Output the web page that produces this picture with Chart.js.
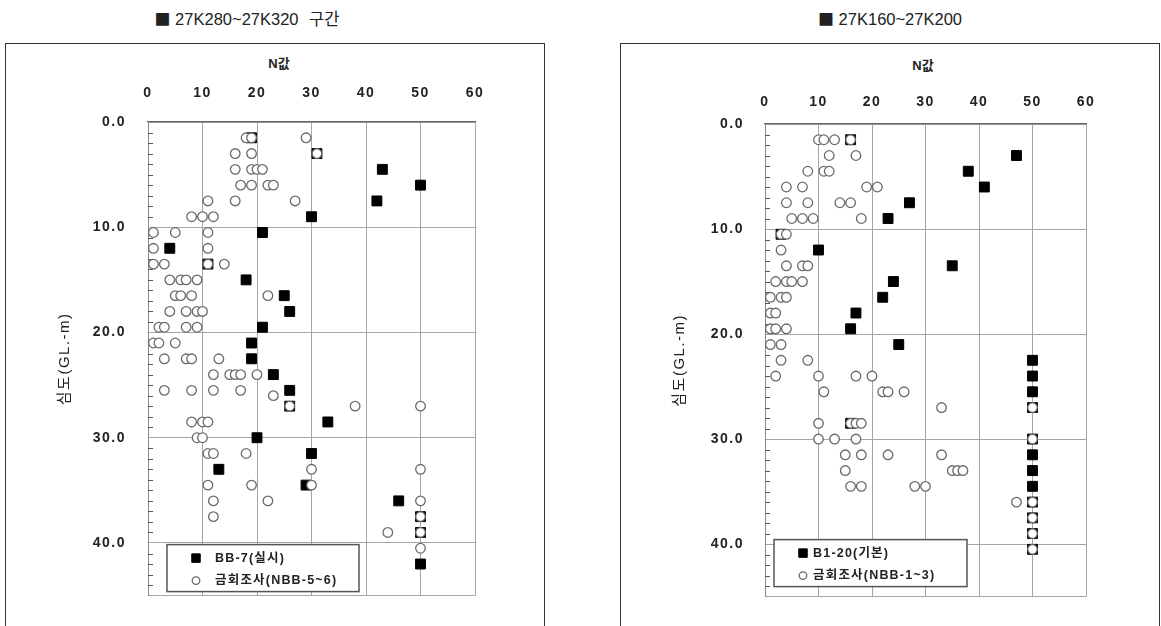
<!DOCTYPE html>
<html lang="ko">
<head>
<meta charset="utf-8">
<script src="https://cdn.jsdelivr.net/npm/chart.js@4.4.1/dist/chart.umd.min.js"></script>
<style>
  body { margin: 0; background: #fff; width: 1161px; height: 626px; overflow: hidden; position: relative;
         font-family: "Liberation Sans", "Noto Sans CJK KR", sans-serif; color: #222; }
  .frame { position: absolute; top: 43px; width: 540px; height: 640px; border: 1.5px solid #333; box-sizing: border-box; }
  .title { position: absolute; top: 8px; font-size: 16.5px; line-height: 20px; white-space: nowrap; transform: translateX(-50%); }
  .title .mark { font-family: "Noto Sans CJK KR", sans-serif; font-size: 16px; }
  .title .gap { margin-left: 6px; }
  .ntitle { position: absolute; font-size: 13px; font-weight: bold; line-height: 14px; transform: translate(-50%, -50%); }
  canvas { position: absolute; }
</style>
</head>
<body>
<div class="title" style="left:247px"><span class="mark">■</span> 27K280~27K320 <span class="gap">구간</span></div>
<div class="title" style="left:890px"><span class="mark">■</span> 27K160~27K200</div>
<div class="frame" style="left:5px"></div>
<div class="frame" style="left:620px"></div>
<div class="ntitle" style="left:279px; top:64px">N값</div>
<div class="ntitle" style="left:923px; top:66px">N값</div>
<canvas id="chartLeft" width="537" height="581" style="left:6px; top:45px"></canvas>
<canvas id="chartRight" width="536" height="581" style="left:622px; top:45px"></canvas>
<script>
// 눈금
const xTickLabels = ['0', '10', '20', '30', '40', '50', '60'];
const yTickLabels = ['0.0', '10.0', '20.0', '30.0', '40.0'];
const yTitle = '심도(GL.-m)';

// 27K280~27K320 : BB-7(실시)
const leftSptDepth = [1.5, 3, 4.5, 6, 7.5, 9, 10.5, 12, 13.5, 15, 16.5, 18, 19.5, 21, 22.5, 24, 25.5, 27, 28.5, 30, 31.5, 33, 34.5, 36, 37.5, 39, 42];
const leftSptN     = [19, 31, 43, 50, 42, 30, 21, 4, 11, 18, 25, 26, 21, 19, 19, 23, 26, 26, 33, 20, 30, 13, 29, 46, 50, 50, 50];

// 27K280~27K320 : 금회조사(NBB-5~6)
const leftNbbDepth = [
  1.5, 1.5, 1.5,
  3, 3, 3,
  4.5, 4.5, 4.5, 4.5,
  6, 6, 6, 6,
  7.5, 7.5, 7.5,
  9, 9, 9,
  10.5, 10.5, 10.5,
  12, 12,
  13.5, 13.5, 13.5, 13.5,
  15, 15, 15, 15,
  16.5, 16.5, 16.5, 16.5,
  18, 18, 18, 18,
  19.5, 19.5, 19.5, 19.5,
  21, 21, 21,
  22.5, 22.5, 22.5, 22.5,
  24, 24, 24, 24, 24,
  25.5, 25.5, 25.5, 25.5,
  26,
  27, 27, 27,
  28.5, 28.5, 28.5,
  30, 30,
  31.5, 31.5, 31.5,
  33, 33,
  34.5, 34.5, 34.5,
  36, 36, 36,
  37.5, 37.5,
  39, 39,
  40.5
];
const leftNbbN = [
  18, 19, 29,
  16, 19, 31,
  16, 19, 20, 21,
  17, 19, 22, 23,
  11, 16, 27,
  8, 10, 12,
  1, 5, 11,
  1, 11,
  1, 3, 11, 14,
  4, 6, 7, 9,
  5, 6, 8, 22,
  4, 7, 9, 10,
  2, 3, 7, 9,
  1, 2, 5,
  3, 7, 8, 13,
  12, 15, 16, 17, 20,
  3, 8, 12, 17,
  23,
  26, 38, 50,
  8, 10, 11,
  9, 10,
  11, 12, 18,
  30, 50,
  11, 19, 30,
  12, 22, 50,
  12, 50,
  44, 50,
  50
];

// 27K160~27K200 : B1-20(기본)
const rightSptDepth = [1.5, 3, 4.5, 6, 7.5, 9, 10.5, 12, 13.5, 15, 16.5, 18, 19.5, 21, 22.5, 24, 25.5, 27, 28.5, 30, 31.5, 33, 34.5, 36, 37.5, 39, 40.5];
const rightSptN     = [16, 47, 38, 41, 27, 23, 3, 10, 35, 24, 22, 17, 16, 25, 50, 50, 50, 50, 16, 50, 50, 50, 50, 50, 50, 50, 50];

// 27K160~27K200 : 금회조사(NBB-1~3)
const rightNbbDepth = [
  1.5, 1.5, 1.5, 1.5,
  3, 3,
  4.5, 4.5, 4.5,
  6, 6, 6, 6,
  7.5, 7.5, 7.5, 7.5,
  9, 9, 9, 9,
  10.5, 10.5,
  12,
  13.5, 13.5, 13.5,
  15, 15, 15, 15,
  16.5, 16.5, 16.5,
  18, 18,
  19.5, 19.5, 19.5,
  21, 21,
  22.5, 22.5,
  24, 24, 24, 24,
  25.5, 25.5, 25.5, 25.5,
  27, 27,
  28.5, 28.5, 28.5, 28.5,
  30, 30, 30, 30,
  31.5, 31.5, 31.5, 31.5,
  33, 33, 33, 33,
  34.5, 34.5, 34.5, 34.5,
  36, 36,
  37.5,
  39,
  40.5
];
const rightNbbN = [
  10, 11, 13, 16,
  12, 17,
  8, 11, 12,
  4, 7, 19, 21,
  4, 8, 14, 16,
  5, 7, 9, 18,
  3, 4,
  3,
  4, 7, 8,
  2, 4, 5, 7,
  1, 3, 4,
  1, 2,
  1, 2, 4,
  1, 3,
  3, 8,
  2, 10, 17, 20,
  11, 22, 23, 26,
  33, 50,
  10, 16, 17, 18,
  10, 13, 17, 50,
  15, 18, 23, 33,
  15, 35, 36, 37,
  16, 18, 28, 30,
  47, 50,
  50,
  50,
  50
];

const FONT = '"Liberation Sans", "Noto Sans CJK KR", sans-serif';
Chart.defaults.font.family = FONT;

const toPoints = (ns, depths) => ns.map((n, i) => ({ x: n, y: depths[i] }));

// 왼쪽 축의 보조 눈금 (1m 간격, 안쪽)
const yMinorTicks = {
  id: 'yMinorTicks',
  beforeDatasetsDraw(chart) {
    const { ctx, chartArea, scales: { y } } = chart;
    ctx.save();
    ctx.strokeStyle = '#555';
    ctx.lineWidth = 1;
    y.ticks.forEach(t => {
      if (t.value % 10 === 0 || t.value === y.max) return;
      const py = Math.round(y.getPixelForValue(t.value)) + 0.5;
      ctx.beginPath();
      ctx.moveTo(chartArea.left, py);
      ctx.lineTo(chartArea.left + 5, py);
      ctx.stroke();
    });
    ctx.restore();
  }
};

// 그래프 안쪽 범례 상자
const boxLegend = {
  id: 'boxLegend',
  afterDraw(chart, args, opts) {
    const { ctx, chartArea } = chart;
    const bx = chartArea.left + opts.left;
    const by = chartArea.bottom - opts.bottom - opts.height;
    ctx.save();
    ctx.letterSpacing = '1.2px';
    ctx.fillStyle = '#fff';
    ctx.fillRect(bx, by, opts.width, opts.height);
    ctx.strokeStyle = '#555';
    ctx.lineWidth = 1.5;
    ctx.strokeRect(bx, by, opts.width, opts.height);
    ctx.font = 'bold 12.5px ' + FONT;
    ctx.textBaseline = 'middle';
    chart.data.datasets.forEach((ds, i) => {
      const rowY = by + 13.5 + i * 22.5;
      ctx.fillStyle = ds.backgroundColor;
      ctx.strokeStyle = ds.borderColor;
      ctx.lineWidth = ds.borderWidth;
      Chart.helpers.drawPoint(ctx, { pointStyle: ds.pointStyle, radius: ds.pointStyle === 'rect' ? 6 : 3.8, borderWidth: ds.borderWidth }, bx + 29, rowY);
      ctx.fillStyle = '#222';
      ctx.fillText(ds.label, bx + opts.textX, rowY);
    });
    ctx.restore();
  }
};

const textSpacing = {
  id: 'textSpacing',
  beforeDraw(chart) { chart.ctx.letterSpacing = '1.5px'; },
  afterDatasetsDraw(chart) { chart.ctx.letterSpacing = '0px'; }
};

function makePanel(id, p) {
  return new Chart(document.getElementById(id), {
    type: 'scatter',
    data: {
      datasets: [
        { label: p.sptLabel, data: toPoints(p.sptN, p.sptDepth), pointStyle: 'rect', pointRadius: 7, pointHoverRadius: 7,
          backgroundColor: '#000', borderColor: '#000', borderWidth: 1, order: 1 },
        { label: p.nbbLabel, data: toPoints(p.nbbN, p.nbbDepth), pointStyle: 'circle', pointRadius: 4.8, pointHoverRadius: 4.8,
          backgroundColor: '#fff', borderColor: '#6a6a6a', borderWidth: 1.3, order: 0 }
      ]
    },
    options: {
      responsive: false,
      animation: false,
      devicePixelRatio: 1,
      events: [],
      layout: { padding: p.padding },
      plugins: {
        legend: { display: false },
        tooltip: { enabled: false },
        boxLegend: p.legendBox
      },
      scales: {
        x: {
          type: 'linear', position: 'top', min: 0, max: 60,
          afterFit: s => { s.height = p.xAxisHeight; },
          border: { color: '#666', width: 1.2 },
          grid: { color: '#a5a5a5', drawTicks: false },
          ticks: { stepSize: 10, padding: p.xTickPad, color: '#222', font: { size: 14, weight: 'bold' },
                   callback: v => xTickLabels[v / 10] }
        },
        y: {
          type: 'linear', reverse: true, min: 0, max: 45,
          afterFit: s => { s.width = p.yAxisWidth; },
          border: { color: '#888' },
          grid: {
            color: c => (c.tick && (c.tick.value % 10 === 0 || c.tick.value === 45)) ? '#a5a5a5' : 'rgba(0,0,0,0)',
            drawTicks: false
          },
          ticks: { stepSize: 1, autoSkip: false, padding: p.yTickPad, color: '#222', font: { size: 14, weight: 'bold' },
                   callback: v => v % 10 === 0 ? yTickLabels[v / 10] : '' },
          title: { display: true, text: yTitle, color: '#222', font: { size: 15 }, padding: { top: p.yTitlePad, bottom: 0 } }
        }
      }
    },
    plugins: [textSpacing, yMinorTicks, boxLegend]
  });
}

makePanel('chartLeft', {
  sptLabel: 'BB-7(실시)', nbbLabel: '금회조사(NBB-5~6)',
  sptN: leftSptN, sptDepth: leftSptDepth, nbbN: leftNbbN, nbbDepth: leftNbbDepth,
  padding: { left: 42, top: 0, right: 68, bottom: 19 },
  xAxisHeight: 77, yAxisWidth: 100, xTickPad: 20, yTickPad: 22, yTitlePad: 7.5,
  legendBox: { left: 19, bottom: 4, width: 192, height: 47, textX: 48 }
});

makePanel('chartRight', {
  sptLabel: 'B1-20(기본)', nbbLabel: '금회조사(NBB-1~3)',
  sptN: rightSptN, sptDepth: rightSptDepth, nbbN: rightNbbN, nbbDepth: rightNbbDepth,
  padding: { left: 43, top: 0, right: 72, bottom: 20 },
  xAxisHeight: 79, yAxisWidth: 100, xTickPad: 13, yTickPad: 21, yTitlePad: 5.5,
  legendBox: { left: 9, bottom: 10, width: 193, height: 47, textX: 39 }
});
</script>
</body>
</html>
